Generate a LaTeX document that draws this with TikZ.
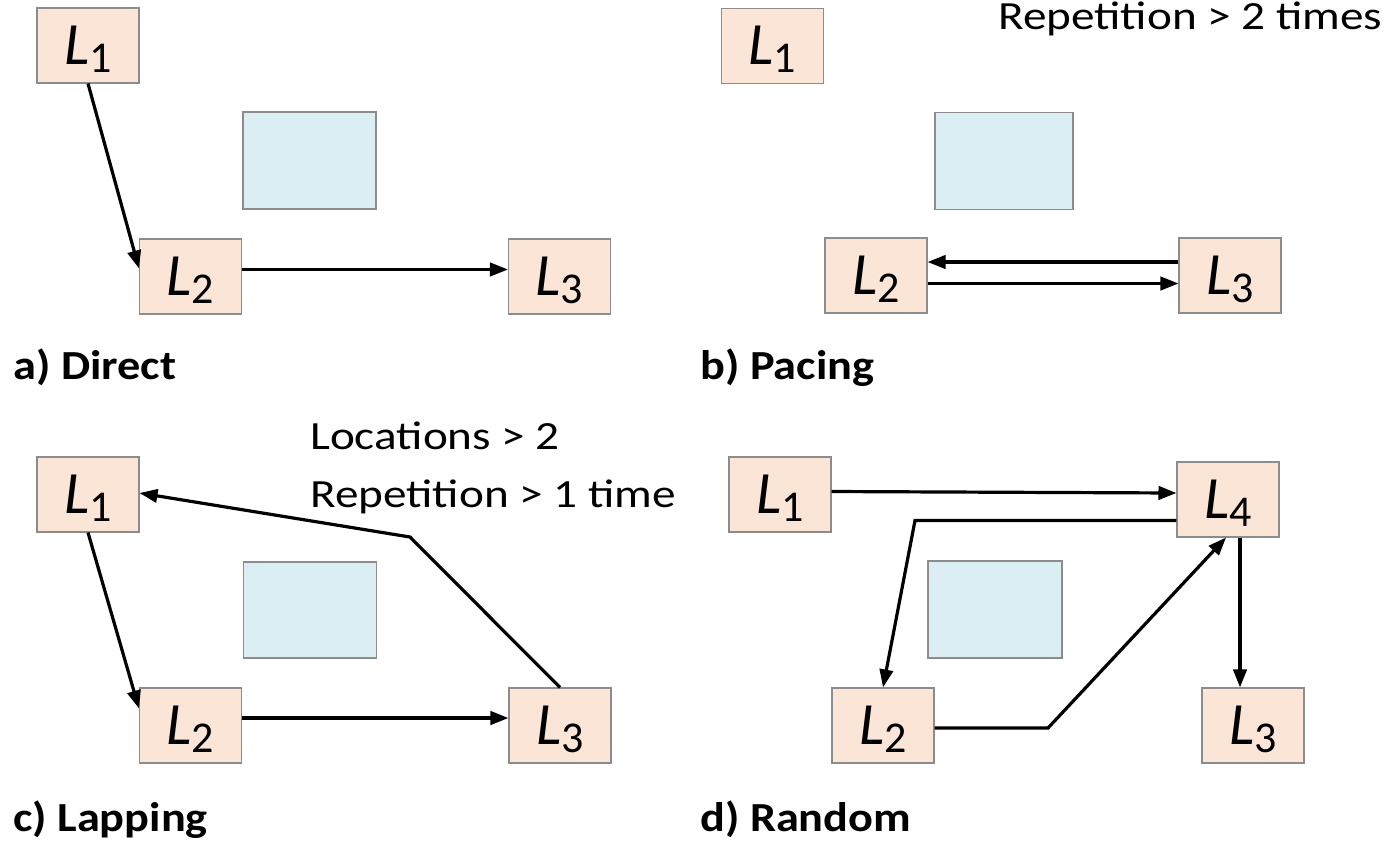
\documentclass[tikz,border=0pt]{standalone}
\usepackage{fontspec}
\setmainfont{Carlito}
\newfontfamily\notefont[FakeStretch=1.18]{Carlito}
\newfontfamily\capfont[FakeStretch=1.12]{Carlito}
\usetikzlibrary{arrows.meta,calc}
\definecolor{peach}{HTML}{FBE5D6}
\definecolor{paleblue}{HTML}{DAEEF3}
\definecolor{edgegray}{HTML}{8C8C8C}
\newcommand{\Lab}[1]{{\fontsize{45}{45}\selectfont\itshape L}\raisebox{-6pt}{\fontsize{33}{33}\selectfont #1}}
\tikzset{
  locbox/.style={draw=edgegray, line width=0.8pt, fill=peach, minimum width=76.5pt, minimum height=56.25pt, inner sep=0pt, text height=28.4pt, text depth=0pt},
  obstacle/.style={draw=edgegray, line width=0.8pt, fill=paleblue, inner sep=0pt},
  arr/.style={line width=2.4pt, -{Triangle[length=13.5pt,width=10pt]}},
  caption/.style={anchor=base west, inner sep=0pt, font=\capfont\fontsize{31}{31}\selectfont\bfseries},
  note/.style={anchor=base west, inner sep=0pt, font=\notefont\fontsize{30}{30}\selectfont}
}
\begin{document}
\begin{tikzpicture}[x=0.75pt, y=-0.75pt]
\useasboundingbox (0,0) rectangle (1383,847);
% ---------- a) Direct
\node[obstacle, minimum width=99.75pt, minimum height=72.75pt] (aobs) at (309.5,160.5) {};
\node[locbox] (a1) at (88,45.5) {\Lab{1}};
\node[locbox] (a2) at (190.5,276.5) {\Lab{2}};
\node[locbox] (a3) at (559.5,276.5) {\Lab{3}};
\draw[arr] (a1.south) -- ($(a2.west)+(0,-8)$);
\draw[arr] ($(a2.east)+(0,-7)$) -- ($(a3.west)+(0,-7)$);
\node[caption] (acap) at (13,379) {a) Direct};
% ---------- b) Pacing
\node[obstacle, minimum width=103.5pt, minimum height=72.75pt] (bobs) at (1004,161) {};
\node[locbox] (b1) at (772.5,46) {\Lab{1}};
\node[locbox] (b2) at (876,275.5) {\Lab{2}};
\node[locbox] (b3) at (1230,275.5) {\Lab{3}};
\draw[arr] ($(b3.west)+(0,-13.5)$) -- ($(b2.east)+(0,-13.5)$);
\draw[arr] ($(b2.east)+(0,8)$) -- ($(b3.west)+(0,8)$);
\node[caption] (bcap) at (700,379) {b) Pacing};
\node[note] (bnote) at (998,29) {Repetition > 2 times};
% ---------- c) Lapping
\node[obstacle, minimum width=99.75pt, minimum height=72pt] (cobs) at (310,610) {};
\node[locbox] (c1) at (88,494.5) {\Lab{1}};
\node[locbox] (c2) at (190.5,725.5) {\Lab{2}};
\node[locbox] (c3) at (560,725.5) {\Lab{3}};
\coordinate (cbend) at (410,537);
\draw[arr] (c1.south) -- ($(c2.west)+(0,-17)$);
\draw[arr] ($(c2.east)+(0,-7.5)$) -- ($(c3.west)+(0,-7.5)$);
\draw[arr] (c3.north) -- (cbend) -- ($(c1.east)+(0,-1.5)$);
\node[caption] (ccap) at (13,831) {c) Lapping};
\node[note] (cnote1) at (310,449) {Locations > 2};
\node[note] (cnote2) at (310,507) {Repetition > 1 time};
% ---------- d) Random
\node[obstacle, minimum width=100.5pt, minimum height=72.75pt] (dobs) at (995,609.5) {};
\node[locbox] (d1) at (780,494.5) {\Lab{1}};
\node[locbox] (d4) at (1228,499.5) {\Lab{4}};
\node[locbox] (d2) at (883,725.5) {\Lab{2}};
\node[locbox] (d3) at (1253,725.5) {\Lab{3}};
\coordinate (dbendA) at (915,520.5);
\coordinate (dbendB) at (1048,728);
\draw[arr] ($(d1.east)+(0,-3)$) -- ($(d4.west)+(0,-6.5)$);
\draw[arr] ($(d4.west)+(0,21)$) -- (dbendA) -- (d2.north);
\draw[arr] ($(d2.east)+(0,2.5)$) -- (dbendB) -- ($(d4.south)+(-2,0)$);
\draw[arr] ($(d4.south)+(12,0)$) -- ($(d3.north)+(-13,0)$);
\node[caption] (dcap) at (700,831) {d) Random};
\end{tikzpicture}
\end{document}
